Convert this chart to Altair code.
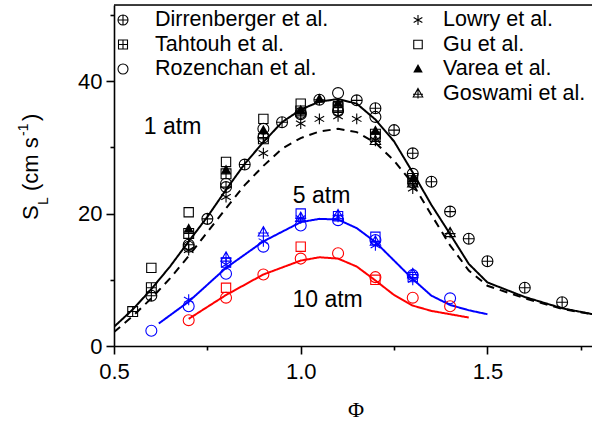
import altair as alt
import pandas as pd

FONT = "Arial, Liberation Sans, sans-serif"

# ---------------- model curves ----------------
c1_phi = [0.5, 0.55, 0.6, 0.65, 0.7, 0.75, 0.8, 0.85, 0.9, 0.95, 1.0, 1.05, 1.1, 1.15,
          1.2, 1.25, 1.3, 1.35, 1.4, 1.45, 1.5, 1.6, 1.7, 1.8]
c1_solid = [2.9, 5.5, 8.6, 12.0, 15.8, 19.5, 23.6, 27.5, 30.8, 33.8, 35.7, 36.9, 37.3, 36.6,
            34.2, 30.9, 26.2, 21.3, 16.9, 12.4, 9.6, 7.4, 5.7, 4.6]
c1_dashed = [2.1, 4.5, 7.2, 10.2, 13.6, 17.2, 20.8, 24.3, 27.2, 29.8, 31.4, 32.4, 32.8, 32.3,
             30.7, 28.0, 24.5, 19.8, 15.2, 11.4, 9.1, 7.2, 5.6, 4.6]
c5_phi = [0.62, 0.7, 0.8, 0.9, 1.0, 1.05, 1.1, 1.15, 1.2, 1.25, 1.3, 1.35, 1.4, 1.45, 1.5]
c5_S = [3.4, 6.7, 11.8, 15.8, 18.7, 19.2, 19.1, 17.8, 15.7, 12.9, 10.1, 7.6, 6.2, 5.4, 4.8]
c10_phi = [0.7, 0.8, 0.9, 1.0, 1.05, 1.1, 1.15, 1.2, 1.25, 1.3, 1.35, 1.4, 1.45]
c10_S = [4.1, 7.7, 10.8, 12.9, 13.4, 13.2, 12.0, 9.9, 7.7, 6.1, 5.3, 4.8, 4.3]

# ---------------- measurements ----------------
sources = ["Dirrenberger et al.", "Tahtouh et al.", "Rozenchan et al.",
           "Lowry et al.", "Gu et al.", "Varea et al.", "Goswami et al."]

# 1 atm
dirr1_phi = [0.6, 0.7, 0.75, 0.8, 0.85, 0.9, 0.95, 1.0, 1.05, 1.1, 1.15, 1.2, 1.25, 1.3,
             1.35, 1.4, 1.45, 1.5, 1.6, 1.7]
dirr1_S = [7.6, 15.3, 19.2, 24.0, 27.4, 31.5, 33.8, 35.0, 37.2, 35.5, 37.1, 35.9, 32.6, 29.1,
           24.8, 20.3, 16.2, 12.8, 8.8, 6.6]
tah1_phi = [0.55, 0.6, 0.7, 0.8, 0.9, 1.0, 1.1, 1.2, 1.3]
tah1_S = [5.2, 8.8, 17.0, 26.0, 31.3, 35.5, 36.0, 32.0, 25.3]
roz1_phi = [0.7, 0.8, 0.9, 1.0, 1.1, 1.2, 1.3]
roz1_S = [15.0, 24.5, 32.8, 35.2, 38.2, 34.6, 26.0]
low1_phi = [0.7, 0.8, 0.9, 1.0, 1.05, 1.1, 1.15, 1.2, 1.3]
low1_S = [14.5, 22.5, 29.1, 33.6, 34.3, 34.7, 34.3, 31.1, 23.8]
gu1_phi = [0.6, 0.7, 0.8, 0.9, 1.0, 1.1, 1.2, 1.3]
gu1_S = [11.8, 20.2, 27.8, 34.3, 36.6, 36.2, 31.6, 25.0]
var1_phi = [0.7, 0.8, 0.9, 1.0, 1.05, 1.1, 1.2, 1.3]
var1_S = [17.7, 26.6, 32.6, 35.6, 37.3, 36.7, 32.5, 25.3]
gos1_phi = [1.2, 1.3, 1.4]
gos1_S = [31.0, 24.6, 17.1]

# 5 atm
roz5_phi = [0.6, 0.7, 0.8, 0.9, 1.0, 1.1, 1.2, 1.3, 1.4]
roz5_S = [2.3, 6.0, 10.9, 15.0, 18.2, 19.0, 16.0, 10.7, 7.2]
low5_phi = [0.7, 0.8, 0.9, 1.0, 1.1, 1.2, 1.3]
low5_S = [7.0, 12.3, 15.8, 19.3, 19.5, 15.2, 10.0]
gu5_phi = [0.8, 1.0, 1.1, 1.2, 1.3]
gu5_S = [12.6, 20.0, 19.6, 16.5, 10.4]
gos5_phi = [0.8, 0.9, 1.0, 1.1, 1.2, 1.3]
gos5_S = [13.4, 17.2, 19.4, 19.8, 15.8, 10.9]

# 10 atm
roz10_phi = [0.7, 0.8, 0.9, 1.0, 1.1, 1.2, 1.3, 1.4]
roz10_S = [3.9, 7.3, 10.8, 13.2, 14.0, 10.4, 7.3, 6.0]
gu10_phi = [0.8, 1.0, 1.2]
gu10_S = [8.8, 15.0, 10.0]

# annotations
ann_text = ["1 atm", "5 atm", "10 atm"]
ann_phi = [0.657, 1.056, 1.072]
ann_S = [33.0, 22.6, 6.9]

# legend layout (column, row)
leg_col = [0, 0, 0, 1, 1, 1, 1]
leg_row = [0, 1, 2, 0, 1, 2, 3]


def mk(phi, S, src, p):
    return pd.DataFrame({"phi": phi, "S": S, "source": src, "p": p})


pts = pd.concat([
    mk(dirr1_phi, dirr1_S, sources[0], "1 atm"),
    mk(tah1_phi, tah1_S, sources[1], "1 atm"),
    mk(roz1_phi, roz1_S, sources[2], "1 atm"),
    mk(low1_phi, low1_S, sources[3], "1 atm"),
    mk(gu1_phi, gu1_S, sources[4], "1 atm"),
    mk(var1_phi, var1_S, sources[5], "1 atm"),
    mk(gos1_phi, gos1_S, sources[6], "1 atm"),
    mk(roz5_phi, roz5_S, sources[2], "5 atm"),
    mk(low5_phi, low5_S, sources[3], "5 atm"),
    mk(gu5_phi, gu5_S, sources[4], "5 atm"),
    mk(gos5_phi, gos5_S, sources[6], "5 atm"),
    mk(roz10_phi, roz10_S, sources[2], "10 atm"),
    mk(gu10_phi, gu10_S, sources[4], "10 atm"),
], ignore_index=True)

curves = pd.concat([
    pd.DataFrame({"phi": c1_phi, "S": c1_solid, "curve": "1 solid", "p": "1 atm"}),
    pd.DataFrame({"phi": c1_phi, "S": c1_dashed, "curve": "1 dashed", "p": "1 atm"}),
    pd.DataFrame({"phi": c5_phi, "S": c5_S, "curve": "5", "p": "5 atm"}),
    pd.DataFrame({"phi": c10_phi, "S": c10_S, "curve": "10", "p": "10 atm"}),
], ignore_index=True)

legend_df = pd.DataFrame({"source": sources, "col": leg_col, "row": leg_row})
ann_df = pd.DataFrame({"label": ann_text, "phi": ann_phi, "S": ann_S})

# marker shapes
CIRCLE_PLUS = "M-1,0A1,1,0,1,1,1,0A1,1,0,1,1,-1,0ZM-1,0L1,0M0,-1L0,1"
SQUARE_PLUS = "M-0.9,-0.9L0.9,-0.9L0.9,0.9L-0.9,0.9ZM-0.9,0L0.9,0M0,-0.9L0,0.9"
ASTERISK = "M0,-1L0,1M-0.87,-0.5L0.87,0.5M-0.87,0.5L0.87,-0.5"
SQUARE = "M-0.85,-0.85L0.85,-0.85L0.85,0.85L-0.85,0.85Z"
TRI = "M0,-1L0.95,0.7L-0.95,0.7Z"
TRI_CROSS = "M0,-1L0.95,0.7L-0.95,0.7ZM0,-1L0,1M-1,0.15L1,0.15"
shape_scale = alt.Scale(domain=sources,
                        range=[CIRCLE_PLUS, SQUARE_PLUS, "circle", ASTERISK, SQUARE, TRI, TRI_CROSS])
color_scale = alt.Scale(domain=["1 atm", "5 atm", "10 atm"], range=["#000000", "#0000ff", "#ff0000"])

W, H = 478, 341
xs = alt.Scale(domain=[0.5, 1.78], nice=False, zero=False)
ys = alt.Scale(domain=[0, 51.5], nice=False, zero=False)

x_axis = alt.Axis(
    values=[0.5, 0.75, 1.0, 1.25, 1.5, 1.75],
    labelExpr="datum.value % 0.5 == 0 ? format(datum.value, '.1f') : ''",
    tickSize={"condition": {"test": "datum.value % 0.5 == 0", "value": 8}, "value": 4},
    labelFontSize=22, labelPadding=7, labelFont=FONT, labelColor="black",
    grid=False, title=None, domainColor="black", domainWidth=1.6,
    tickColor="black", tickWidth=1.6, labelFlush=False,
)
y_axis = alt.Axis(
    values=[0, 10, 20, 30, 40, 50],
    labelExpr="datum.value % 20 == 0 ? format(datum.value, 'd') : ''",
    tickSize={"condition": {"test": "datum.value % 20 == 0", "value": 8}, "value": 4},
    labelFontSize=22, labelPadding=4, labelFont=FONT, labelColor="black",
    grid=False, title=None, domainColor="black", domainWidth=1.6,
    tickColor="black", tickWidth=1.6, labelFlush=False,
)

X = alt.X("phi:Q", scale=xs, axis=None)
Y = alt.Y("S:Q", scale=ys, axis=None)

lines = alt.Chart(curves).mark_line(strokeWidth=2, clip=True).encode(
    x=alt.X("phi:Q", scale=xs, axis=x_axis),
    y=alt.Y("S:Q", scale=ys, axis=y_axis),
    color=alt.Color("p:N", scale=color_scale, legend=None),
    detail="curve:N",
    strokeDash=alt.StrokeDash("curve:N",
                              scale=alt.Scale(domain=["1 solid", "1 dashed", "5", "10"],
                                              range=[[1, 0], [8, 6], [1, 0], [1, 0]]),
                              legend=None),
)

open_pts = alt.Chart(pts[pts.source != "Varea et al."]).mark_point(
    filled=False, size=120, strokeWidth=1.1, opacity=1, clip=True
).encode(
    x=X, y=Y,
    shape=alt.Shape("source:N", scale=shape_scale, legend=None),
    color=alt.Color("p:N", scale=color_scale, legend=None),
)
filled_pts = alt.Chart(pts[pts.source == "Varea et al."]).mark_point(
    filled=True, size=120, opacity=1, clip=True
).encode(
    x=X, y=Y,
    shape=alt.Shape("source:N", scale=shape_scale, legend=None),
    color=alt.Color("p:N", scale=color_scale, legend=None),
)

ann = alt.Chart(ann_df).mark_text(fontSize=23, font=FONT, color="black",
                                  align="center", baseline="middle").encode(
    x=X, y=Y, text="label:N")

# legend
LX = alt.X("col:Q", scale=alt.Scale(domain=[0, 1], range=[9, 304]), axis=None)
LXT = alt.X("col:Q", scale=alt.Scale(domain=[0, 1], range=[41, 329]), axis=None)
LY = alt.Y("row:Q", scale=alt.Scale(domain=[0, 3], range=[15, 88.5]), axis=None)
leg_open = alt.Chart(legend_df[legend_df.source != "Varea et al."]).mark_point(
    filled=False, size=100, strokeWidth=1.1, opacity=1, color="black"
).encode(x=LX, y=LY, shape=alt.Shape("source:N", scale=shape_scale, legend=None))
leg_fill = alt.Chart(legend_df[legend_df.source == "Varea et al."]).mark_point(
    filled=True, size=100, opacity=1, color="black"
).encode(x=LX, y=LY, shape=alt.Shape("source:N", scale=shape_scale, legend=None))
leg_text = alt.Chart(legend_df).mark_text(
    fontSize=21.5, font=FONT, color="black", align="left", baseline="middle"
).encode(x=LXT, y=LY, text="source:N")

# top frame line
top = alt.Chart(pd.DataFrame({"a": [0]})).mark_rule(color="black", strokeWidth=1.6).encode(
    x=alt.value(0), x2=alt.value(W), y=alt.value(0))

# axis titles
def piece(txt, x, y, size, font=FONT, angle=270, align="left", baseline="alphabetic"):
    return alt.Chart(pd.DataFrame({"a": [0]})).mark_text(
        text=txt, fontSize=size, font=font, color="black", angle=angle,
        align=align, baseline=baseline
    ).encode(x=alt.value(x), y=alt.value(y))

ytitle = [
    piece("S", -76, 215, 22),
    piece("L", -66, 200, 14),
    piece("(cm s", -76, 186, 22),
    piece("-1", -86, 131, 14),
    piece(")", -76, 116, 22),
]
xtitle = piece("\u03a6", 242, 405, 22, font="Liberation Serif, Times New Roman, serif",
               angle=0, align="center", baseline="middle")

chart = alt.layer(
    lines, open_pts, filled_pts, ann, leg_open, leg_fill, leg_text, top, xtitle, *ytitle
).resolve_scale(x="independent", y="independent").properties(
    width=W, height=H,
    autosize=alt.AutoSizeParams(type="none"),
    padding={"left": 114, "top": 5, "right": 0, "bottom": 79},
).configure_view(stroke=None).configure(background="white")

chart.save("out.html", embed_options={"renderer": "svg", "actions": False})
